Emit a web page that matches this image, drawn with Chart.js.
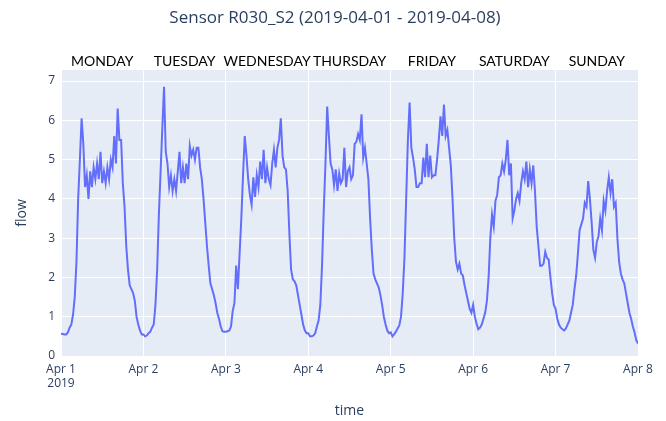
<!DOCTYPE html>
<html>
<head>
<meta charset="utf-8">
<script src="https://cdn.jsdelivr.net/npm/chart.js@4.4.1/dist/chart.umd.min.js"></script>
<style>
  html, body { margin: 0; padding: 0; background: #fff; }
  #wrap { width: 666px; height: 421px; position: relative; }
</style>
</head>
<body>
<div id="wrap"><canvas id="myChart" width="666" height="421"></canvas></div>
<script>
// half-hourly flow readings, one array per day (Apr 1 .. Apr 7 2019)
const dayNames = ['MONDAY', 'TUESDAY', 'WEDNESDAY', 'THURSDAY', 'FRIDAY', 'SATURDAY', 'SUNDAY'];
const dayTicks = ['Apr 1', 'Apr 2', 'Apr 3', 'Apr 4', 'Apr 5', 'Apr 6', 'Apr 7', 'Apr 8'];
const yearLabel = '2019';
const yTicks = [0, 1, 2, 3, 4, 5, 6, 7];
const stepHours = 0.5;

const mon = [0.57, 0.56, 0.55, 0.55, 0.6, 0.72, 0.8, 1.05, 1.5, 2.4, 4.0, 5.0, 6.05, 5.4, 4.3, 4.6,
  4.0, 4.7, 4.3, 4.8, 4.5, 4.9, 4.5, 5.2, 4.4, 4.7, 4.4, 4.8, 4.5, 5.0, 4.8, 5.6,
  4.9, 6.3, 5.5, 5.5, 4.4, 3.8, 2.8, 2.2, 1.8, 1.7, 1.6, 1.4, 1.0, 0.8, 0.65, 0.55];
const tue = [0.55, 0.5, 0.52, 0.58, 0.62, 0.72, 0.8, 1.3, 2.2, 3.6, 4.7, 5.8, 6.85, 5.2, 4.9, 4.3,
  4.6, 4.2, 4.5, 4.2, 4.7, 5.2, 4.4, 4.8, 4.4, 4.9, 4.5, 5.35, 5.1, 5.25, 5.0, 5.3,
  5.3, 4.8, 4.5, 4.0, 3.4, 2.8, 2.3, 1.85, 1.7, 1.55, 1.35, 1.1, 0.95, 0.75, 0.63, 0.62];
const wed = [0.62, 0.63, 0.65, 0.75, 1.15, 1.35, 2.3, 1.7, 2.6, 3.5, 4.6, 5.6, 5.1, 4.5, 4.1, 3.85,
  4.55, 4.05, 4.6, 4.3, 4.95, 4.5, 5.25, 4.4, 4.8, 4.5, 4.35, 4.9, 5.25, 4.8, 5.3, 5.5,
  6.05, 5.1, 4.8, 4.75, 4.2, 3.1, 2.2, 1.95, 1.9, 1.8, 1.55, 1.3, 1.05, 0.8, 0.65, 0.58];
const thu = [0.58, 0.5, 0.5, 0.52, 0.58, 0.75, 0.9, 1.3, 2.3, 3.7, 4.9, 6.35, 5.6, 4.9, 4.75, 4.35,
  4.75, 4.2, 4.65, 4.4, 4.5, 5.3, 4.3, 4.7, 4.8, 4.5, 4.6, 5.4, 5.45, 5.65, 5.5, 6.15,
  5.05, 5.3, 4.9, 4.5, 3.5, 2.7, 2.1, 1.95, 1.85, 1.75, 1.55, 1.3, 1.0, 0.8, 0.65, 0.58];
const fri = [0.6, 0.5, 0.55, 0.62, 0.7, 0.78, 1.0, 1.6, 2.5, 4.0, 5.5, 6.45, 5.3, 5.05, 4.75, 4.3,
  4.3, 4.4, 4.4, 5.05, 4.55, 5.4, 4.55, 5.1, 4.55, 4.6, 4.6, 5.0, 5.5, 6.1, 5.6, 6.4,
  5.6, 5.75, 5.3, 4.85, 4.0, 3.0, 2.4, 2.2, 2.35, 2.1, 2.05, 1.8, 1.6, 1.4, 1.2, 1.1];
const sat = [1.3, 1.0, 0.82, 0.68, 0.72, 0.8, 0.95, 1.1, 1.4, 2.0, 3.0, 3.6, 3.3, 3.95, 4.1, 4.55,
  4.6, 4.9, 4.7, 5.0, 5.5, 4.6, 4.9, 3.5, 3.7, 4.0, 4.15, 3.95, 4.4, 4.7, 4.5, 4.95,
  4.3, 4.75, 4.4, 4.85, 4.2, 3.3, 2.8, 2.3, 2.3, 2.35, 2.65, 2.5, 2.45, 2.0, 1.6, 1.3];
const sun = [1.2, 0.95, 0.8, 0.72, 0.68, 0.65, 0.7, 0.8, 0.9, 1.1, 1.3, 1.7, 2.05, 2.6, 3.2, 3.35,
  3.5, 3.9, 3.8, 4.45, 4.0, 3.4, 2.7, 2.5, 2.9, 3.05, 3.5, 3.2, 3.95, 3.7, 4.2, 4.55,
  4.15, 4.5, 3.8, 3.9, 3.0, 2.4, 2.1, 1.95, 1.85, 1.6, 1.35, 1.1, 0.95, 0.75, 0.6, 0.4, 0.32];

const days = [mon, tue, wed, thu, fri, sat, sun];
const points = [];
days.forEach(function (arr, d) {
  arr.forEach(function (v, i) {
    points.push({ x: d * 24 + i * stepHours, y: v });
  });
});

const FONT = '"Open Sans", "Noto Sans", sans-serif';
const INK = '#2a3f5f';

const decor = {
  id: 'decor',
  beforeDraw(chart) {
    const a = chart.chartArea;
    const c = chart.ctx;
    c.save();
    c.fillStyle = '#E5ECF6';
    c.fillRect(a.left, a.top, a.right - a.left, a.bottom - a.top);
    c.restore();
  },
  afterDraw(chart) {
    const c = chart.ctx;
    const a = chart.chartArea;
    const xs = chart.scales.x;
    c.save();
    c.fillStyle = INK;
    c.textAlign = 'center';
    c.textBaseline = 'middle';
    c.font = '17px ' + FONT;
    c.fillText('Sensor R030_S2 (2019-04-01 - 2019-04-08)', 335, 18);

    c.font = '14px ' + FONT;
    c.fillText('time', (a.left + a.right) / 2, 411);
    c.save();
    c.translate(22, (a.top + a.bottom) / 2);
    c.rotate(-Math.PI / 2);
    c.fillText('flow', 0, 0);
    c.restore();

    c.fillStyle = '#000';
    c.font = '14px Lato, "Liberation Sans", sans-serif';
    dayNames.forEach(function (name, d) {
      c.fillText(name, xs.getPixelForValue(d * 24 + 12), 61);
    });
    c.restore();
  }
};

const ctx = document.getElementById('myChart').getContext('2d');
const myChart = new Chart(ctx, {
  type: 'line',
  data: {
    datasets: [{
      data: points,
      borderColor: '#636EFA',
      borderWidth: 2,
      pointRadius: 0,
      tension: 0,
      fill: false
    }]
  },
  options: {
    responsive: false,
    animation: false,
    layout: { padding: { top: 70, right: 28, left: 0, bottom: 0 } },
    plugins: { legend: { display: false }, tooltip: { enabled: false } },
    scales: {
      x: {
        type: 'linear',
        min: 0,
        max: 168,
        afterFit(s) { s.height = 65; },
        grid: { color: '#ffffff', lineWidth: 1, drawTicks: false },
        border: { display: false },
        ticks: {
          stepSize: 24,
          padding: 6,
          maxRotation: 0,
          autoSkip: false,
          color: INK,
          font: { family: FONT, size: 12 },
          callback: function (v) {
            const i = Math.round(v / 24);
            return i === 0 ? [dayTicks[0], yearLabel] : dayTicks[i];
          }
        }
      },
      y: {
        min: 0,
        max: 7.28,
        afterFit(s) { s.width = 61; },
        afterBuildTicks(s) { s.ticks = yTicks.map(function (v) { return { value: v }; }); },
        grid: { color: '#ffffff', lineWidth: 1, drawTicks: false },
        border: { display: false },
        ticks: {
          padding: 6,
          color: INK,
          font: { family: FONT, size: 12 }
        }
      }
    }
  },
  plugins: [decor]
});
</script>
</body>
</html>
